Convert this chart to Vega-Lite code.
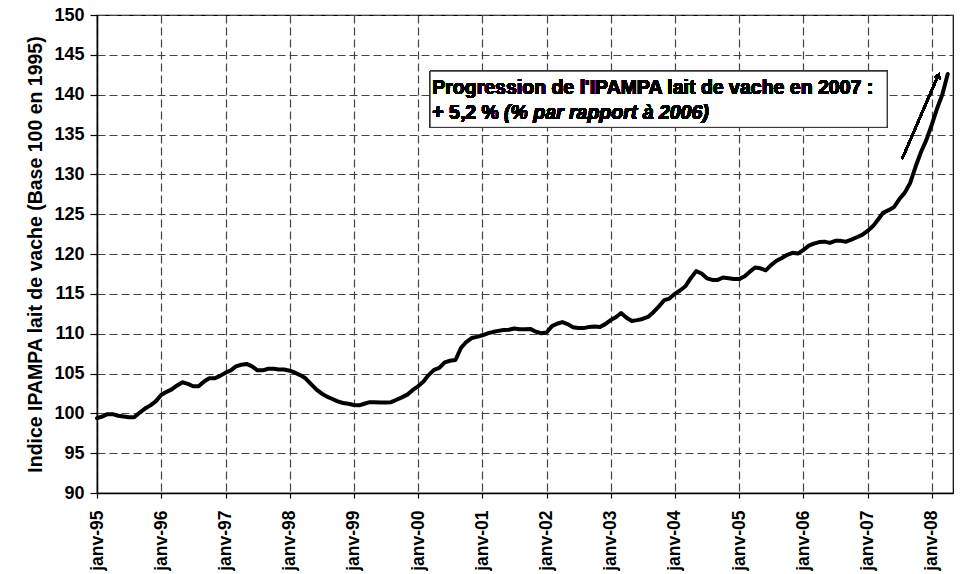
{
  "$schema": "https://vega.github.io/schema/vega-lite/v6.json",
  "width": 856,
  "height": 478,
  "autosize": {"type": "none"},
  "padding": {"left": 97, "top": 15, "right": 9, "bottom": 81},
  "background": "white",
  "config": {
    "font": "Liberation Sans",
    "view": {"stroke": "#000", "strokeWidth": 1.2},
    "axis": {
      "domainColor": "#000", "domainWidth": 1.5,
      "tickColor": "#000", "tickWidth": 1.2,
      "gridColor": "#444", "gridDash": [8, 4], "gridWidth": 1.2,
      "labelFont": "Liberation Sans", "labelFontWeight": "bold", "labelColor": "#000",
      "titleFont": "Liberation Sans", "titleFontWeight": "bold", "titleColor": "#000"
    }
  },
  "data": {"values": [
    {"date": "1995-01-01", "v": 99.4}, {"date": "1995-02-01", "v": 99.6}, {"date": "1995-03-01", "v": 99.9}, {"date": "1995-04-01", "v": 99.9},
    {"date": "1995-05-01", "v": 99.7}, {"date": "1995-06-01", "v": 99.6}, {"date": "1995-07-01", "v": 99.5}, {"date": "1995-08-01", "v": 99.5},
    {"date": "1995-09-01", "v": 100.1}, {"date": "1995-10-01", "v": 100.6}, {"date": "1995-11-01", "v": 101.0}, {"date": "1995-12-01", "v": 101.5},
    {"date": "1996-01-01", "v": 102.3}, {"date": "1996-02-01", "v": 102.7}, {"date": "1996-03-01", "v": 103.0}, {"date": "1996-04-01", "v": 103.5},
    {"date": "1996-05-01", "v": 103.9}, {"date": "1996-06-01", "v": 103.7}, {"date": "1996-07-01", "v": 103.4}, {"date": "1996-08-01", "v": 103.4},
    {"date": "1996-09-01", "v": 104.0}, {"date": "1996-10-01", "v": 104.4}, {"date": "1996-11-01", "v": 104.4}, {"date": "1996-12-01", "v": 104.7},
    {"date": "1997-01-01", "v": 105.1}, {"date": "1997-02-01", "v": 105.4}, {"date": "1997-03-01", "v": 105.9}, {"date": "1997-04-01", "v": 106.1},
    {"date": "1997-05-01", "v": 106.2}, {"date": "1997-06-01", "v": 105.9}, {"date": "1997-07-01", "v": 105.4}, {"date": "1997-08-01", "v": 105.4},
    {"date": "1997-09-01", "v": 105.6}, {"date": "1997-10-01", "v": 105.6}, {"date": "1997-11-01", "v": 105.5}, {"date": "1997-12-01", "v": 105.5},
    {"date": "1998-01-01", "v": 105.35}, {"date": "1998-02-01", "v": 105.1}, {"date": "1998-03-01", "v": 104.8}, {"date": "1998-04-01", "v": 104.4},
    {"date": "1998-05-01", "v": 103.7}, {"date": "1998-06-01", "v": 103.0}, {"date": "1998-07-01", "v": 102.5}, {"date": "1998-08-01", "v": 102.1},
    {"date": "1998-09-01", "v": 101.8}, {"date": "1998-10-01", "v": 101.5}, {"date": "1998-11-01", "v": 101.3}, {"date": "1998-12-01", "v": 101.2},
    {"date": "1999-01-01", "v": 101.05}, {"date": "1999-02-01", "v": 101.0}, {"date": "1999-03-01", "v": 101.2}, {"date": "1999-04-01", "v": 101.4},
    {"date": "1999-05-01", "v": 101.4}, {"date": "1999-06-01", "v": 101.35}, {"date": "1999-07-01", "v": 101.35}, {"date": "1999-08-01", "v": 101.4},
    {"date": "1999-09-01", "v": 101.7}, {"date": "1999-10-01", "v": 102.0}, {"date": "1999-11-01", "v": 102.35}, {"date": "1999-12-01", "v": 102.9},
    {"date": "2000-01-01", "v": 103.4}, {"date": "2000-02-01", "v": 104.0}, {"date": "2000-03-01", "v": 104.8}, {"date": "2000-04-01", "v": 105.45},
    {"date": "2000-05-01", "v": 105.7}, {"date": "2000-06-01", "v": 106.4}, {"date": "2000-07-01", "v": 106.6}, {"date": "2000-08-01", "v": 106.7},
    {"date": "2000-09-01", "v": 108.2}, {"date": "2000-10-01", "v": 108.95}, {"date": "2000-11-01", "v": 109.45}, {"date": "2000-12-01", "v": 109.6},
    {"date": "2001-01-01", "v": 109.8}, {"date": "2001-02-01", "v": 110.05}, {"date": "2001-03-01", "v": 110.2}, {"date": "2001-04-01", "v": 110.35},
    {"date": "2001-05-01", "v": 110.45}, {"date": "2001-06-01", "v": 110.5}, {"date": "2001-07-01", "v": 110.65}, {"date": "2001-08-01", "v": 110.55},
    {"date": "2001-09-01", "v": 110.55}, {"date": "2001-10-01", "v": 110.6}, {"date": "2001-11-01", "v": 110.25}, {"date": "2001-12-01", "v": 110.05},
    {"date": "2002-01-01", "v": 110.15}, {"date": "2002-02-01", "v": 110.95}, {"date": "2002-03-01", "v": 111.25}, {"date": "2002-04-01", "v": 111.45},
    {"date": "2002-05-01", "v": 111.2}, {"date": "2002-06-01", "v": 110.8}, {"date": "2002-07-01", "v": 110.7}, {"date": "2002-08-01", "v": 110.7},
    {"date": "2002-09-01", "v": 110.85}, {"date": "2002-10-01", "v": 110.9}, {"date": "2002-11-01", "v": 110.85}, {"date": "2002-12-01", "v": 111.2},
    {"date": "2003-01-01", "v": 111.7}, {"date": "2003-02-01", "v": 112.1}, {"date": "2003-03-01", "v": 112.6}, {"date": "2003-04-01", "v": 112.0},
    {"date": "2003-05-01", "v": 111.6}, {"date": "2003-06-01", "v": 111.7}, {"date": "2003-07-01", "v": 111.85}, {"date": "2003-08-01", "v": 112.1},
    {"date": "2003-09-01", "v": 112.7}, {"date": "2003-10-01", "v": 113.4}, {"date": "2003-11-01", "v": 114.2}, {"date": "2003-12-01", "v": 114.4},
    {"date": "2004-01-01", "v": 115.0}, {"date": "2004-02-01", "v": 115.45}, {"date": "2004-03-01", "v": 115.95}, {"date": "2004-04-01", "v": 117.0},
    {"date": "2004-05-01", "v": 117.85}, {"date": "2004-06-01", "v": 117.55}, {"date": "2004-07-01", "v": 116.95}, {"date": "2004-08-01", "v": 116.75},
    {"date": "2004-09-01", "v": 116.75}, {"date": "2004-10-01", "v": 117.05}, {"date": "2004-11-01", "v": 116.95}, {"date": "2004-12-01", "v": 116.85},
    {"date": "2005-01-01", "v": 116.85}, {"date": "2005-02-01", "v": 117.2}, {"date": "2005-03-01", "v": 117.75}, {"date": "2005-04-01", "v": 118.3},
    {"date": "2005-05-01", "v": 118.2}, {"date": "2005-06-01", "v": 117.95}, {"date": "2005-07-01", "v": 118.6}, {"date": "2005-08-01", "v": 119.15},
    {"date": "2005-09-01", "v": 119.5}, {"date": "2005-10-01", "v": 119.9}, {"date": "2005-11-01", "v": 120.15}, {"date": "2005-12-01", "v": 120.05},
    {"date": "2006-01-01", "v": 120.5}, {"date": "2006-02-01", "v": 121.05}, {"date": "2006-03-01", "v": 121.3}, {"date": "2006-04-01", "v": 121.5},
    {"date": "2006-05-01", "v": 121.55}, {"date": "2006-06-01", "v": 121.4}, {"date": "2006-07-01", "v": 121.65}, {"date": "2006-08-01", "v": 121.65},
    {"date": "2006-09-01", "v": 121.55}, {"date": "2006-10-01", "v": 121.8}, {"date": "2006-11-01", "v": 122.1}, {"date": "2006-12-01", "v": 122.4},
    {"date": "2007-01-01", "v": 122.9}, {"date": "2007-02-01", "v": 123.5}, {"date": "2007-03-01", "v": 124.3}, {"date": "2007-04-01", "v": 125.2},
    {"date": "2007-05-01", "v": 125.5}, {"date": "2007-06-01", "v": 125.9}, {"date": "2007-07-01", "v": 126.9}, {"date": "2007-08-01", "v": 127.7},
    {"date": "2007-09-01", "v": 128.95}, {"date": "2007-10-01", "v": 130.95}, {"date": "2007-11-01", "v": 132.8}, {"date": "2007-12-01", "v": 134.3},
    {"date": "2008-01-01", "v": 136.2}, {"date": "2008-02-01", "v": 138.3}, {"date": "2008-03-01", "v": 140.0}, {"date": "2008-04-01", "v": 142.6}
  ]},
  "layer": [
    {
      "mark": {"type": "rect", "fill": "white", "stroke": "#333", "strokeWidth": 1},
      "encoding": {
        "x": {"datum": {"year": 2000, "month": 3, "date": 10, "utc": true}, "type": "temporal"},
        "x2": {"datum": {"year": 2007, "month": 4, "date": 22, "utc": true}},
        "y": {"datum": 142.95, "type": "quantitative"},
        "y2": {"datum": 135.9}
      }
    },
    {
      "mark": {"type": "text", "align": "left", "baseline": "alphabetic", "fontSize": 19.5, "fontWeight": "bold", "color": "#000"},
      "encoding": {
        "x": {"datum": {"year": 2000, "month": 3, "date": 22, "utc": true}, "type": "temporal"},
        "y": {"datum": 140.1, "type": "quantitative"},
        "text": {"value": "Progression de l'IPAMPA lait de vache en 2007 :"}
      }
    },
    {
      "mark": {"type": "text", "align": "left", "baseline": "alphabetic", "fontSize": 19.5, "fontWeight": "bold", "color": "#000"},
      "encoding": {
        "x": {"datum": {"year": 2000, "month": 3, "date": 22, "utc": true}, "type": "temporal"},
        "y": {"datum": 137.0, "type": "quantitative"},
        "text": {"value": "+ 5,2 %"}
      }
    },
    {
      "mark": {"type": "text", "align": "left", "baseline": "alphabetic", "fontSize": 19.5, "fontWeight": "bold", "fontStyle": "italic", "color": "#000"},
      "encoding": {
        "x": {"datum": {"year": 2001, "month": 5, "date": 4, "utc": true}, "type": "temporal"},
        "y": {"datum": 137.0, "type": "quantitative"},
        "text": {"value": "(% par rapport à 2006)"}
      }
    },
    {
      "mark": {"type": "rule", "color": "#000", "strokeWidth": 2},
      "encoding": {
        "x": {"datum": {"year": 2007, "month": 7, "date": 16, "utc": true}, "type": "temporal"},
        "y": {"datum": 131.9, "type": "quantitative"},
        "x2": {"datum": {"year": 2008, "month": 2, "date": 8, "utc": true}},
        "y2": {"datum": 142.5}
      }
    },
    {
      "mark": {"type": "point", "shape": "triangle-up", "filled": true, "color": "#000", "opacity": 1, "size": 45, "angle": 23},
      "encoding": {
        "x": {"datum": {"year": 2008, "month": 2, "date": 8, "utc": true}, "type": "temporal"},
        "y": {"datum": 142.4, "type": "quantitative"}
      }
    },
    {
      "mark": {"type": "line", "color": "#000", "strokeWidth": 4, "strokeJoin": "round", "strokeCap": "round"},
      "encoding": {
        "x": {
          "field": "date", "type": "temporal",
          "scale": {"type": "utc", "domain": [{"year": 1995, "month": 1, "date": 1, "utc": true}, {"year": 2008, "month": 5, "date": 1, "utc": true}]},
          "axis": {
            "title": null, "grid": true,
            "tickCount": {"interval": "year", "step": 1},
            "labelExpr": "'janv-' + utcFormat(datum.value, '%y')",
            "labelAngle": -90, "labelFontSize": 17.5,
            "tickSize": 5, "labelPadding": 12, "labelOverlap": false, "labelFlush": false
          }
        },
        "y": {
          "field": "v", "type": "quantitative",
          "scale": {"domain": [90, 150], "nice": false, "zero": false},
          "axis": {
            "title": "Indice IPAMPA lait de vache  (Base 100 en 1995)",
            "titleFontSize": 19.5, "titlePadding": 8,
            "values": [90, 95, 100, 105, 110, 115, 120, 125, 130, 135, 140, 145, 150],
            "tickCount": 13,
            "grid": true, "labelFontSize": 18, "tickSize": 7, "labelPadding": 6,
            "labelOverlap": false, "labelFlush": false
          }
        }
      }
    }
  ]
}
